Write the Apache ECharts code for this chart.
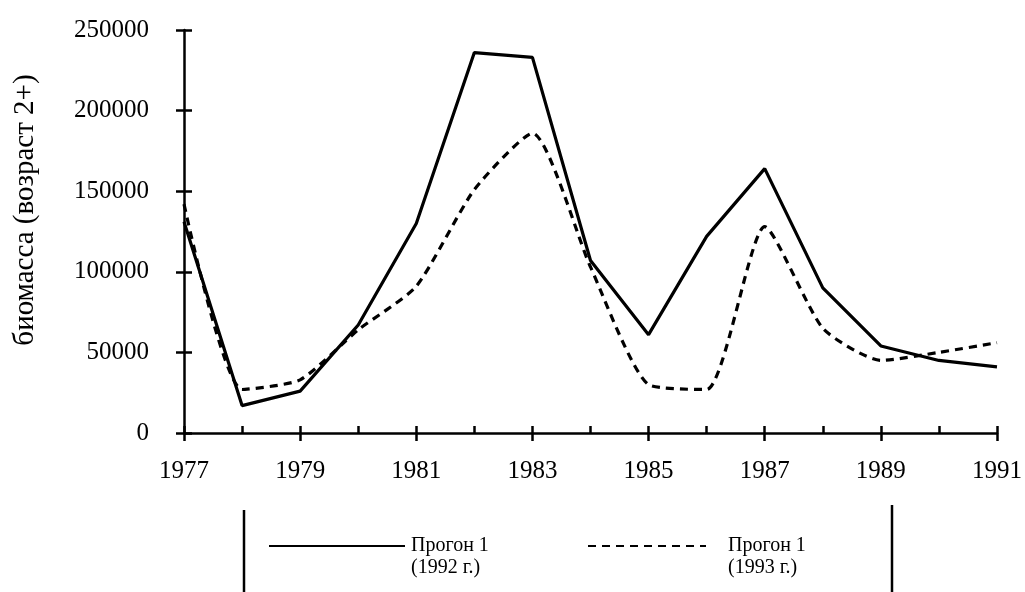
<!DOCTYPE html>
<html>
<head>
<meta charset="utf-8">
<script src="https://cdn.jsdelivr.net/npm/echarts@6/dist/echarts.min.js"></script>
<style>
html,body{margin:0;padding:0;background:#fff;}
#chart{width:1025px;height:592px;}
</style>
</head>
<body>
<div id="chart"></div>
<script>
const years = ['1977','1978','1979','1980','1981','1982','1983','1984','1985','1986','1987','1988','1989','1990','1991'];
const run1992 = [131000, 17000, 26000, 67000, 130000, 236000, 233000, 107000, 61000, 122000, 164000, 90000, 54000, 45000, 41000];
const run1993 = [142000, 27000, 33000, 64000, 91000, 151000, 186000, 103000, 30000, 27000, 128000, 65000, 45000, 50000, 56000];
const yTicks = [0, 50000, 100000, 150000, 200000, 250000];
const seriesNames = ['Прогон 1 (1992 г.)', 'Прогон 1 (1993 г.)'];
const legendLines = [['Прогон 1', '(1992 г.)'], ['Прогон 1', '(1993 г.)']];
const yTitle = 'биомасса (возраст 2+)';

const FONT = '"Liberation Serif", "DejaVu Serif", serif';
const chart = echarts.init(document.getElementById('chart'));
const yMin = yTicks[0], yMax = yTicks[yTicks.length - 1], yStep = yTicks[1] - yTicks[0];

function legendFmt(idx) {
  return function () {
    return '\n{t|' + legendLines[idx][0] + '}\n{t|' + legendLines[idx][1] + '}';
  };
}
function legendText(pad) {
  return {
    color: '#000', fontFamily: FONT, fontSize: 20, lineHeight: 22,
    rich: {t: {color: '#000', fontFamily: FONT, fontSize: 20, lineHeight: 22, padding: [0, 0, 0, pad]}}
  };
}

chart.setOption({
  animation: false,
  backgroundColor: '#fff',
  grid: {left: 184, right: 24, top: 30, bottom: 159, containLabel: false},
  xAxis: [
    {
      type: 'category', data: years, boundaryGap: false,
      axisLine: {lineStyle: {color: '#000', width: 2.5}},
      axisTick: {inside: true, length: 7, interval: 0, lineStyle: {color: '#000', width: 2.5}},
      axisLabel: {interval: 1, margin: 26, color: '#000', fontFamily: FONT, fontSize: 25},
      splitLine: {show: false}
    },
    {
      type: 'category', data: years, boundaryGap: false, position: 'bottom',
      axisLine: {show: false},
      axisTick: {inside: false, length: 8, interval: 1, lineStyle: {color: '#000', width: 2.5}},
      axisLabel: {show: false},
      splitLine: {show: false}
    }
  ],
  yAxis: [
    {
      type: 'value', min: yMin, max: yMax, interval: yStep,
      axisLine: {show: true, lineStyle: {color: '#000', width: 2.5}},
      axisTick: {show: true, inside: true, length: 8, lineStyle: {color: '#000', width: 2.5}},
      axisLabel: {margin: 35, color: '#000', fontFamily: FONT, fontSize: 25, formatter: function (v) { return String(v); }},
      splitLine: {show: false}
    },
    {
      type: 'value', min: yMin, max: yMax, interval: yStep, position: 'left',
      axisLine: {show: false},
      axisTick: {show: true, inside: false, length: 8, lineStyle: {color: '#000', width: 2.5}},
      axisLabel: {show: false},
      splitLine: {show: false}
    }
  ],
  legend: [
    {
      data: [seriesNames[0]], left: 268, top: 513, padding: 0,
      itemWidth: 136, itemHeight: 14, itemGap: 0,
      itemStyle: {opacity: 0},
      formatter: legendFmt(0), textStyle: legendText(1)
    },
    {
      data: [seriesNames[1]], left: 587, top: 513, padding: 0,
      itemWidth: 118, itemHeight: 14, itemGap: 0,
      itemStyle: {opacity: 0},
      formatter: legendFmt(1), textStyle: legendText(17)
    }
  ],
  graphic: [
    {type: 'text', x: 25, y: 210, rotation: Math.PI / 2,
     style: {text: yTitle, fill: '#000', font: '29px ' + FONT, align: 'center', verticalAlign: 'middle'}},
    {type: 'line', shape: {x1: 244, y1: 510, x2: 244, y2: 592}, style: {stroke: '#000', lineWidth: 2.5}},
    {type: 'line', shape: {x1: 892, y1: 505, x2: 892, y2: 592}, style: {stroke: '#000', lineWidth: 2.5}}
  ],
  series: [
    {
      name: seriesNames[0], type: 'line', data: run1992, xAxisIndex: 0, yAxisIndex: 0,
      symbol: 'none', lineStyle: {color: '#000', width: 3.2, type: 'solid'}, itemStyle: {color: '#000'}
    },
    {
      name: seriesNames[1], type: 'line', data: run1993, xAxisIndex: 0, yAxisIndex: 0,
      symbol: 'none', smooth: 0.2,
      lineStyle: {color: '#000', width: 3.2, type: [8, 6]}, itemStyle: {color: '#000'}
    }
  ]
});
</script>
</body>
</html>
